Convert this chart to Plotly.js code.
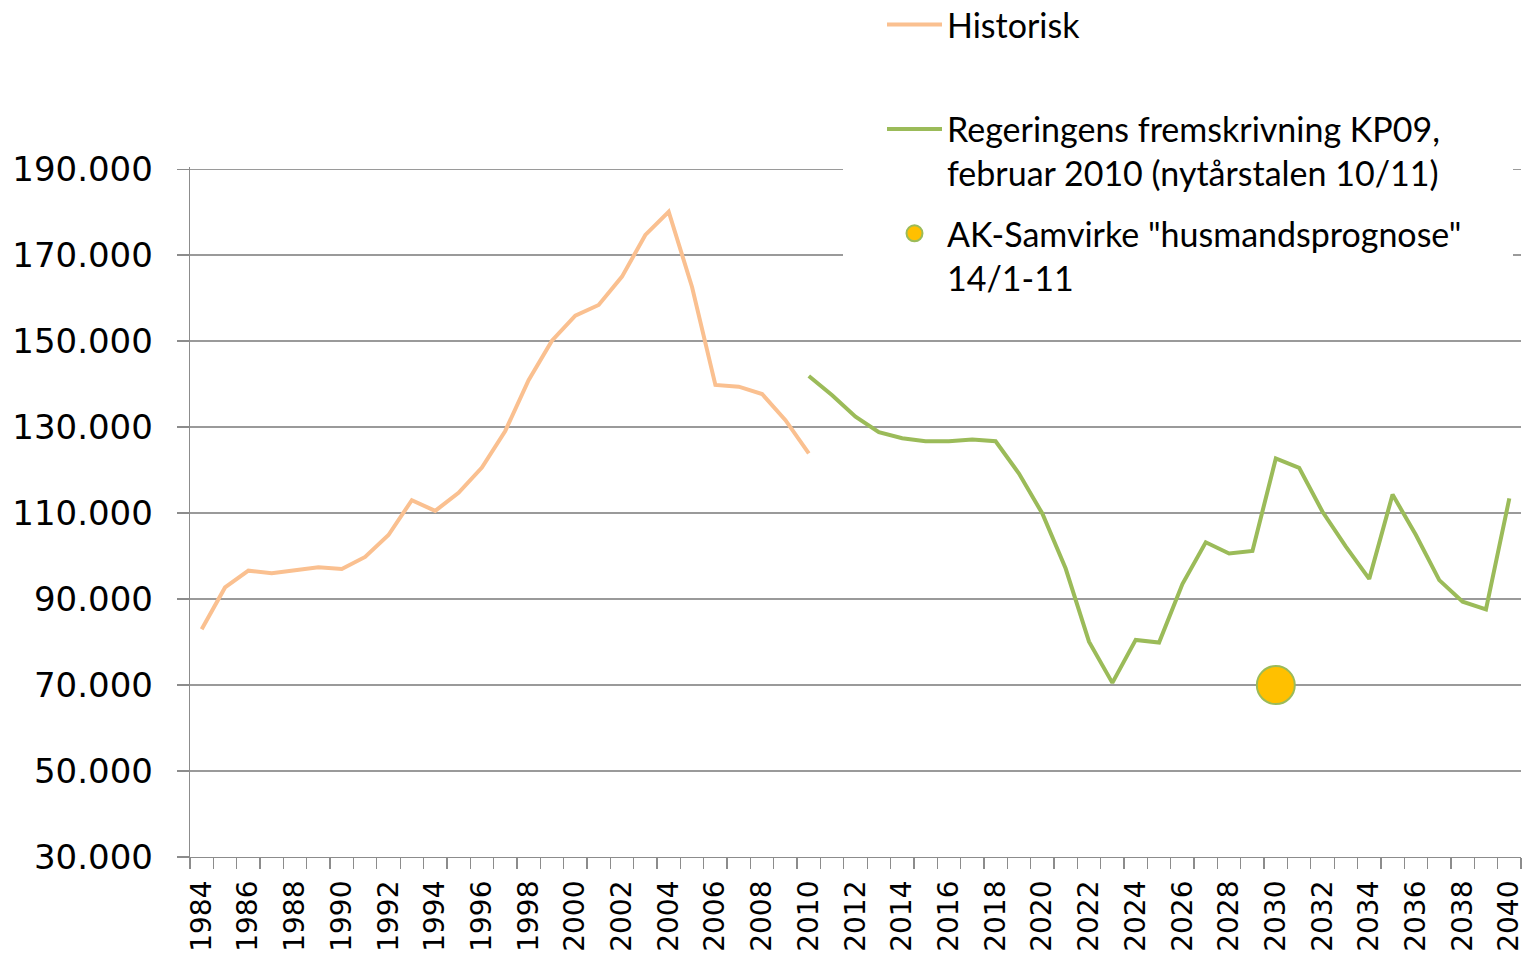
<!DOCTYPE html>
<html>
<head>
<meta charset="utf-8">
<script src="https://cdn.plot.ly/plotly-3.0.1.min.js"></script>
<style>html,body{margin:0;padding:0;background:#fff;}#chart{width:1526px;height:958px;}</style>
</head>
<body>
<div id="chart"></div>
<script>
const histYears = [1984,1985,1986,1987,1988,1989,1990,1991,1992,1993,1994,1995,1996,1997,1998,1999,2000,2001,2002,2003,2004,2005,2006,2007,2008,2009,2010];
const histValues = [83000,92700,96600,96000,96700,97400,97000,99800,104900,113000,110500,114700,120600,129100,140900,150100,155900,158400,165000,174700,180100,162600,139800,139400,137700,131600,123900];

const progYears = [2010,2011,2012,2013,2014,2015,2016,2017,2018,2019,2020,2021,2022,2023,2024,2025,2026,2027,2028,2029,2030,2031,2032,2033,2034,2035,2036,2037,2038,2039,2040];
const progValues = [141900,137400,132400,128800,127400,126700,126700,127100,126700,119200,109900,97100,80100,70500,80500,79900,93500,103200,100600,101200,122700,120500,110300,102200,94700,114300,104900,94400,89400,87600,113400];

const akYears = [2030];
const akValues = [70000];

const xTickVals = [1984,1986,1988,1990,1992,1994,1996,1998,2000,2002,2004,2006,2008,2010,2012,2014,2016,2018,2020,2022,2024,2026,2028,2030,2032,2034,2036,2038,2040];
const xTickText = ["1984","1986","1988","1990","1992","1994","1996","1998","2000","2002","2004","2006","2008","2010","2012","2014","2016","2018","2020","2022","2024","2026","2028","2030","2032","2034","2036","2038","2040"];
const yTickVals = [30000,50000,70000,90000,110000,130000,150000,170000,190000];

const names = ["Historisk<br> ", "Regeringens fremskrivning KP09,<br>februar 2010 (nytårstalen 10/11)", "AK-Samvirke \"husmandsprognose\"<br>14/1-11"];

const traces = [
  {x: histYears, y: histValues, type: 'scatter', mode: 'lines', name: names[0], legendgroup: 'a',
   line: {color: '#FAC090', width: 4}},
  {x: progYears, y: progValues, type: 'scatter', mode: 'lines', name: names[1], legendgroup: 'b',
   line: {color: '#9BBB59', width: 4}},
  {x: akYears, y: akValues, type: 'scatter', mode: 'markers', name: names[2], legendgroup: 'c',
   marker: {color: '#FFC000', size: 38, line: {color: '#9BBB59', width: 2}}}
];

const gray = '#8c8c8c';
const layout = {
  width: 1526, height: 958,
  margin: {l: 190, r: 5, t: 167, b: 101, pad: 0, autoexpand: false},
  paper_bgcolor: '#fff', plot_bgcolor: '#fff',
  separators: ',.',
  showlegend: true,
  xaxis: {
    range: [1983.5, 2040.5], type: 'linear',
    tickvals: xTickVals, ticktext: xTickText, tickangle: -90,
    ticks: '', showgrid: false, zeroline: false,
    showline: true, linecolor: gray, linewidth: 1.3,
    tickfont: {family: 'DejaVu Sans', size: 28, color: '#000'},
    ticklabelstandoff: 11, ticklabeloverflow: 'allow',
    minor: {tick0: 1983.5, dtick: 1, ticks: 'outside', ticklen: 11, tickcolor: gray, tickwidth: 1.3, showgrid: false}
  },
  yaxis: {
    range: [30000, 190500], tickvals: yTickVals, tickformat: ',d',
    ticks: 'outside', ticklen: 12, tickcolor: gray, tickwidth: 1.3,
    showgrid: true, gridcolor: '#9a9a9a', gridwidth: 1.3, zeroline: false,
    showline: true, linecolor: gray, linewidth: 1.3,
    tickfont: {family: 'DejaVu Sans', size: 34, color: '#000'},
    ticklabelstandoff: 17
  },
  shapes: [
    {type: 'rect', xref: 'paper', yref: 'paper', x0: (843-190)/1331, x1: (1513-190)/1331, y0: 0.81, y1: 1.02,
     fillcolor: '#ffffff', line: {width: 0}, layer: 'above'}
  ],
  legend: {
    xref: 'paper', yref: 'paper', x: (882-190)/1331, y: 1.248, xanchor: 'left', yanchor: 'top',
    bgcolor: 'rgba(0,0,0,0)', borderwidth: 0,
    font: {family: 'Lato', size: 34, color: '#000'},
    traceorder: 'grouped', tracegroupgap: 13, valign: 'top', itemwidth: 55
  }
};

Plotly.newPlot('chart', traces, layout, {displayModeBar: false, staticPlot: true});
</script>
</body>
</html>
